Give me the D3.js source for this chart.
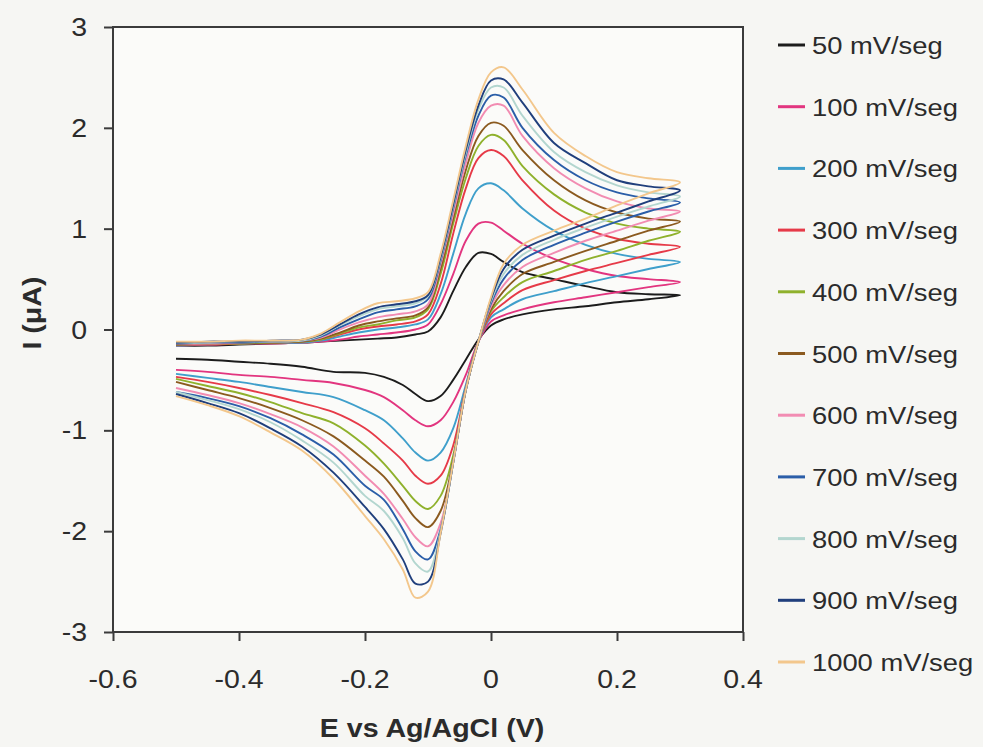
<!DOCTYPE html>
<html>
<head>
<meta charset="utf-8">
<script src="https://cdn.jsdelivr.net/npm/d3@7"></script>
<style>
  html, body { margin: 0; padding: 0; background: #f6f6f3; }
  svg { display: block; }
  text { font-family: "Liberation Sans", Arial, sans-serif; fill: #2b2b2b; }
</style>
</head>
<body>
<svg id="chart" width="983" height="747"></svg>
<script>
// ---------- DATA ----------
const seriesLabels = ["50 mV/seg","100 mV/seg","200 mV/seg","300 mV/seg","400 mV/seg","500 mV/seg",
                      "600 mV/seg","700 mV/seg","800 mV/seg","900 mV/seg","1000 mV/seg"];
const seriesColors = ["#1c1c1c","#e2357f","#3f9fcb","#e63a48","#8fb12c","#8b5a1f",
                      "#f28cb2","#2b5ea8","#b3d6cf","#203f7c","#f3c78c"];

const xTicks = [-0.6,-0.4,-0.2,0,0.2,0.4];
const yTicks = [-3,-2,-1,0,1,2,3];

// forward (anodic) scan potentials, V
const forwardE = [-0.5,-0.45,-0.4,-0.35,-0.3,-0.27,-0.24,-0.21,-0.18,-0.15,-0.12,-0.1,-0.08,-0.06,-0.04,-0.02,0.0,0.02,0.05,0.1,0.15,0.2,0.25,0.3];
// reverse (cathodic) scan potentials, V
const reverseE = [0.3,0.25,0.2,0.15,0.1,0.05,0.02,0.0,-0.02,-0.04,-0.06,-0.08,-0.1,-0.12,-0.14,-0.17,-0.2,-0.25,-0.3,-0.35,-0.4,-0.45,-0.5];

// currents, µA
const fwd50   = [-0.16,-0.16,-0.15,-0.14,-0.13,-0.12,-0.11,-0.1,-0.09,-0.08,-0.05,-0.02,0.12,0.38,0.62,0.76,0.75,0.67,0.57,0.5,0.43,0.37,0.35,0.34];
const fwd100  = [-0.16,-0.15,-0.14,-0.14,-0.13,-0.12,-0.1,-0.07,-0.05,-0.03,0.0,0.05,0.25,0.55,0.88,1.05,1.06,0.98,0.85,0.7,0.6,0.53,0.5,0.47];
const fwd200  = [-0.16,-0.15,-0.14,-0.13,-0.13,-0.11,-0.07,-0.03,0.0,0.02,0.05,0.1,0.35,0.75,1.15,1.4,1.45,1.38,1.2,0.98,0.84,0.75,0.7,0.67];
const fwd300  = [-0.15,-0.15,-0.14,-0.13,-0.12,-0.1,-0.05,0.0,0.03,0.05,0.08,0.15,0.45,0.95,1.4,1.7,1.78,1.72,1.48,1.18,1.0,0.9,0.85,0.82];
const fwd400  = [-0.15,-0.14,-0.14,-0.13,-0.12,-0.1,-0.04,0.02,0.05,0.09,0.12,0.2,0.55,1.05,1.5,1.82,1.93,1.88,1.62,1.34,1.16,1.05,1.0,0.97];
const fwd500  = [-0.15,-0.14,-0.13,-0.13,-0.12,-0.09,-0.03,0.04,0.08,0.11,0.14,0.22,0.6,1.1,1.58,1.92,2.05,2.02,1.78,1.48,1.28,1.16,1.1,1.07];
const fwd600  = [-0.14,-0.14,-0.13,-0.12,-0.11,-0.08,0.0,0.07,0.12,0.15,0.18,0.25,0.65,1.15,1.65,2.05,2.22,2.22,1.92,1.6,1.4,1.27,1.2,1.17];
const fwd700  = [-0.14,-0.13,-0.13,-0.12,-0.11,-0.07,0.02,0.1,0.17,0.2,0.23,0.3,0.68,1.2,1.72,2.12,2.32,2.3,2.0,1.68,1.48,1.36,1.3,1.26];
const fwd800  = [-0.13,-0.13,-0.12,-0.12,-0.11,-0.06,0.04,0.13,0.2,0.23,0.26,0.33,0.7,1.22,1.75,2.18,2.4,2.4,2.12,1.76,1.56,1.43,1.36,1.32];
const fwd900  = [-0.13,-0.12,-0.12,-0.11,-0.1,-0.05,0.05,0.15,0.22,0.25,0.28,0.34,0.72,1.24,1.78,2.22,2.47,2.48,2.25,1.85,1.65,1.48,1.42,1.38];
const fwd1000 = [-0.12,-0.12,-0.11,-0.11,-0.1,-0.04,0.07,0.18,0.26,0.28,0.31,0.37,0.75,1.28,1.82,2.28,2.55,2.6,2.38,1.95,1.72,1.56,1.5,1.46];

const rev50   = [0.34,0.3,0.27,0.23,0.2,0.15,0.1,0.04,-0.1,-0.3,-0.5,-0.66,-0.71,-0.64,-0.55,-0.47,-0.43,-0.42,-0.37,-0.34,-0.32,-0.3,-0.29];
const rev100  = [0.47,0.42,0.37,0.32,0.27,0.2,0.14,0.08,-0.12,-0.45,-0.72,-0.9,-0.96,-0.9,-0.8,-0.67,-0.6,-0.53,-0.5,-0.47,-0.45,-0.42,-0.4];
const rev200  = [0.67,0.6,0.53,0.46,0.38,0.3,0.2,0.12,-0.12,-0.55,-0.98,-1.22,-1.3,-1.22,-1.08,-0.9,-0.8,-0.67,-0.62,-0.57,-0.52,-0.48,-0.44];
const rev300  = [0.82,0.74,0.66,0.58,0.49,0.39,0.26,0.15,-0.12,-0.58,-1.15,-1.45,-1.53,-1.45,-1.3,-1.13,-0.98,-0.82,-0.73,-0.65,-0.58,-0.52,-0.47];
const rev400  = [0.97,0.88,0.78,0.69,0.58,0.47,0.32,0.18,-0.12,-0.6,-1.25,-1.65,-1.78,-1.7,-1.55,-1.33,-1.15,-0.93,-0.83,-0.72,-0.63,-0.56,-0.49];
const rev500  = [1.07,0.98,0.88,0.78,0.67,0.55,0.38,0.2,-0.12,-0.6,-1.3,-1.8,-1.96,-1.87,-1.7,-1.46,-1.3,-1.06,-0.9,-0.78,-0.68,-0.6,-0.52];
const rev600  = [1.17,1.08,0.98,0.88,0.76,0.62,0.44,0.23,-0.12,-0.6,-1.32,-1.92,-2.15,-2.06,-1.88,-1.63,-1.45,-1.16,-0.97,-0.84,-0.73,-0.65,-0.58];
const rev700  = [1.26,1.17,1.07,0.96,0.84,0.69,0.5,0.26,-0.12,-0.6,-1.32,-1.98,-2.28,-2.2,-1.98,-1.69,-1.55,-1.24,-1.04,-0.88,-0.76,-0.68,-0.62];
const rev800  = [1.32,1.22,1.12,1.01,0.89,0.74,0.55,0.28,-0.12,-0.6,-1.32,-2.0,-2.4,-2.32,-2.07,-1.8,-1.65,-1.32,-1.1,-0.92,-0.79,-0.7,-0.62];
const rev900  = [1.38,1.27,1.16,1.05,0.93,0.79,0.6,0.3,-0.12,-0.6,-1.32,-2.02,-2.5,-2.52,-2.28,-1.98,-1.76,-1.42,-1.16,-0.98,-0.83,-0.73,-0.64];
const rev1000 = [1.46,1.35,1.23,1.1,0.98,0.84,0.65,0.32,-0.12,-0.6,-1.32,-2.02,-2.6,-2.66,-2.38,-2.08,-1.85,-1.48,-1.2,-1.02,-0.86,-0.75,-0.66];

const forwardCurrents = [fwd50,fwd100,fwd200,fwd300,fwd400,fwd500,fwd600,fwd700,fwd800,fwd900,fwd1000];
const reverseCurrents = [rev50,rev100,rev200,rev300,rev400,rev500,rev600,rev700,rev800,rev900,rev1000];

// ---------- CHART ----------
const svg = d3.select("#chart");
const W = 983, H = 747;
const plot = {left: 113, right: 743, top: 27, bottom: 632};
const SX = 1.14; // horizontal glyph stretch of the scanned original

const x = d3.scaleLinear().domain([-0.6, 0.4]).range([plot.left, plot.right]);
const y = d3.scaleLinear().domain([-3, 3]).range([plot.bottom, plot.top]);

svg.append("rect").attr("width", W).attr("height", H).attr("fill", "#f6f6f3");
svg.append("rect")
  .attr("x", plot.left).attr("y", plot.top)
  .attr("width", plot.right - plot.left).attr("height", plot.bottom - plot.top)
  .attr("fill", "#fbfbf9");

// curves
const line = d3.line()
  .x(d => x(d[0])).y(d => y(d[1]))
  .curve(d3.curveCatmullRom.alpha(0.5));

const seriesData = seriesLabels.map((name, i) => ({
  name, color: seriesColors[i],
  points: forwardE.map((e, k) => [e, forwardCurrents[i][k]])
    .concat(reverseE.slice(1).map((e, k) => [e, reverseCurrents[i][k + 1]]))
}));

svg.append("g")
  .selectAll("path")
  .data(seriesData)
  .join("path")
  .attr("d", d => line(d.points))
  .attr("fill", "none")
  .attr("stroke", d => d.color)
  .attr("stroke-width", 1.9)
  .attr("stroke-linejoin", "round");

// frame
svg.append("rect")
  .attr("x", plot.left).attr("y", plot.top)
  .attr("width", plot.right - plot.left).attr("height", plot.bottom - plot.top)
  .attr("fill", "none").attr("stroke", "#3b3b3b").attr("stroke-width", 2);

// axes (ticks from D3, labels placed by the scales)
const yAxis = d3.axisLeft(y).tickValues(yTicks).tickSize(9).tickSizeOuter(0).tickFormat("");
const gy = svg.append("g").attr("transform", `translate(${plot.left},0)`).call(yAxis);
gy.select(".domain").remove();
gy.selectAll(".tick line").attr("stroke", "#3b3b3b").attr("stroke-width", 2);

svg.append("g").selectAll("text").data(yTicks).join("text")
  .attr("transform", d => `translate(${plot.left - 26},${y(d) + 9}) scale(${SX},1)`)
  .attr("text-anchor", "end")
  .style("font-size", "25px")
  .text(d => d < 0 ? "-" + Math.abs(d) : String(d));

const xAxis = d3.axisBottom(x).tickValues(xTicks).tickSize(9).tickSizeOuter(0).tickFormat("");
const gx = svg.append("g").attr("transform", `translate(0,${plot.bottom})`).call(xAxis);
gx.select(".domain").remove();
gx.selectAll(".tick line").attr("stroke", "#3b3b3b").attr("stroke-width", 2);

svg.append("g").selectAll("text").data(xTicks).join("text")
  .attr("transform", d => `translate(${x(d)},${plot.bottom + 56}) scale(${SX},1)`)
  .attr("text-anchor", "middle")
  .style("font-size", "25px")
  .text(d => d === 0 ? "0" : (d < 0 ? "-" : "") + Math.abs(d).toFixed(1));

// axis titles
svg.append("text")
  .attr("transform", `translate(432,737) scale(1.1,1)`)
  .attr("text-anchor", "middle")
  .style("font-size", "26px").style("font-weight", "bold")
  .text("E vs Ag/AgCl (V)");

svg.append("text")
  .attr("transform", `translate(41,313) rotate(-90) scale(1.1,1)`)
  .attr("text-anchor", "middle")
  .style("font-size", "26px").style("font-weight", "bold")
  .text("I (\u03BCA)");

// legend
const legend = svg.append("g");
const rowGap = 61.7, row0 = 45;
const items = legend.selectAll("g").data(seriesData).join("g")
  .attr("transform", (d, i) => `translate(778,${row0 + i * rowGap})`);
items.append("line")
  .attr("x1", 0).attr("x2", 27).attr("y1", 0).attr("y2", 0)
  .attr("stroke", d => d.color).attr("stroke-width", 3);
items.append("text")
  .attr("transform", `translate(34,9) scale(${SX},1)`)
  .style("font-size", "24px")
  .text(d => d.name);
</script>
</body>
</html>
